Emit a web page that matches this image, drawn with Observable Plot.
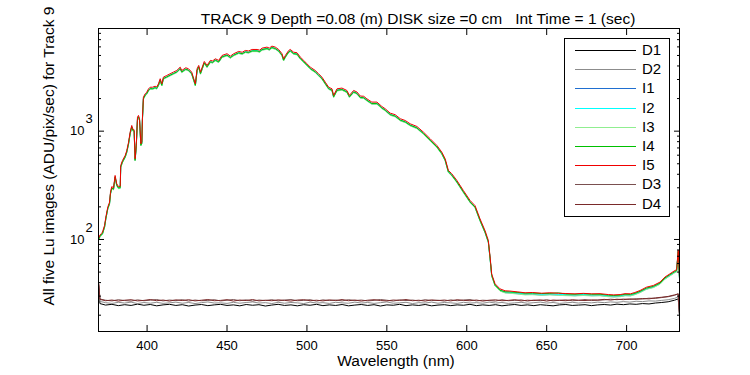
<!DOCTYPE html>
<html><head><meta charset="utf-8">
<script src="https://cdn.jsdelivr.net/npm/d3@7"></script>
<script src="https://cdn.jsdelivr.net/npm/@observablehq/plot@0.6"></script>
<style>
body{margin:0;background:#fff;}
#wrap{position:relative;width:750px;height:375px;overflow:hidden;font-family:"Liberation Sans",Arial,sans-serif;}
#legend{position:absolute;left:564px;top:38px;width:106px;height:179px;box-sizing:border-box;border:1px solid #000;background:#fff;}
.lline{position:absolute;left:10px;width:61px;height:1px;}
.ltext{position:absolute;left:77px;font-size:15px;line-height:20px;height:20px;color:#000;}
</style></head>
<body><div id="wrap"></div>
<script>
// Series names and colours (legend order = drawing order)
const seriesNames = ["D1","D2","I1","I2","I3","I4","I5","D3","D4"];
const seriesColors = ["#000000","#8c8c8c","#1f6fd0","#00ffff","#90ee90","#00c000","#f00000","#7a5050","#7a2a2a"];

// Wavelength grid of the illuminated images (nm)
const wlI = [
369.8,370.5,371.3,372.1,373.4,374.2,375.4,376.5,377.1,377.9,
379.0,380.0,381.0,382.1,383.2,383.5,384.6,386.3,387.3,388.4,
389.4,390.4,391.0,391.9,392.5,393.2,394.0,394.6,395.3,396.1,
396.7,397.1,397.7,398.8,399.8,400.9,401.9,403.4,405.0,406.0,
407.1,408.2,409.2,410.2,412.3,414.4,416.5,418.6,420.7,421.7,
422.5,424.2,425.9,427.9,429.2,430.2,431.3,432.3,433.4,434.5,
435.8,437.5,439.6,441.0,442.7,444.8,446.9,450.0,452.1,454.2,
457.3,459.5,461.5,463.5,465.7,468.8,470.5,471.9,475.0,476.5,
478.1,480.2,482.3,484.4,485.4,486.5,488.6,489.6,491.7,493.8,
495.9,498.0,500.0,502.1,505.2,507.3,509.4,511.5,513.6,515.7,
516.7,518.8,521.9,525.0,526.6,529.2,531.3,533.4,535.5,537.5,
540.6,543.8,546.9,549.0,552.1,555.2,558.4,561.5,564.6,568.8,
572.9,577.1,581.3,584.4,586.5,588.5,590.6,593.8,597.9,602.1,
605.2,608.3,611.5,613.5,614.6,615.6,617.7,620.8,624.0,627.0,
632.0,636.5,641.0,646.9,652.0,657.3,662.0,667.7,673.0,678.2,
683.4,688.6,692.0,696.0,699.0,702.4,705.2,708.4,712.5,716.7,
720.9,724.0,727.1,730.2,731.3,732.3,733.1];

const I5 = [
104,110,113,117,135,161,199,221,273,308,
300,390,327,308,310,482,536,597,663,791,
980,1129,1050,1030,556,738,1346,1397,1300,765,
800,1346,2060,2215,2290,2460,2545,2545,2600,2560,
2735,3050,2735,3155,3266,3388,3509,3635,3900,3635,
3700,3850,3770,3509,3050,2735,3770,4044,3509,3900,
4400,4044,4500,4450,4660,4500,5000,5190,4930,5190,
5450,5350,5560,5500,5680,5680,5600,5840,5970,5850,
6100,5970,5680,5190,4660,5000,5560,5680,5360,5300,
4820,4500,4190,3900,3635,3388,3155,2832,2545,2460,
2140,2460,2500,2375,2140,2375,2300,2110,2100,1990,
1855,1855,1690,1610,1467,1420,1303,1255,1170,1105,
980,851,738,640,556,434,405,351,283,229,
205,155,120,98,69,48,39,35,33.6,33.4,
32.8,32.2,32.4,31.9,32.2,31.9,31.7,31.5,31.8,31.5,
31.6,31.0,30.8,31.0,31.6,31.5,32.4,33.8,36.3,37.6,
40.4,45.0,48.2,51.7,52.5,80,45];

const I4 = [
101,107,110,113,131,156,193,214,265,299,
291,378,317,299,301,468,520,579,643,767,
951,1095,1019,999,539,716,1306,1355,1261,742,
776,1306,1998,2149,2221,2386,2469,2469,2522,2483,
2653,2959,2653,3060,3168,3286,3404,3526,3783,3526,
3589,3735,3657,3404,2959,2653,3657,3923,3404,3783,
4268,3923,4365,4317,4520,4365,4850,5034,4782,5034,
5287,5190,5393,5335,5510,5510,5432,5665,5791,5675,
5917,5791,5510,5034,4520,4850,5393,5510,5199,5141,
4675,4365,4064,3783,3526,3286,3060,2747,2469,2386,
2076,2386,2425,2304,2076,2304,2231,2047,2037,1930,
1799,1799,1639,1562,1423,1377,1264,1217,1135,1072,
951,825,716,621,539,421,393,340,275,222,
199,150,116,95,67,46.6,37.8,34.0,32.9,32.8,
32.4,31.9,32.0,31.7,31.8,32.1,31.4,31.2,31.6,31.2,
31.2,30.6,30.4,30.6,31.2,31.1,31.8,33.2,35.6,36.9,
39.6,44.2,47.4,50.6,51.5,78,44];

const I3 = [
99,105,108,112,129,154,190,211,261,294,
287,372,312,294,296,460,512,570,633,755,
936,1078,1003,984,531,705,1285,1334,1242,731,
764,1285,1967,2115,2187,2349,2430,2430,2483,2445,
2612,2913,2612,3013,3119,3236,3351,3471,3725,3471,
3534,3677,3600,3351,2913,2612,3600,3862,3351,3725,
4202,3862,4298,4250,4450,4298,4775,4956,4708,4956,
5205,5109,5310,5253,5424,5424,5348,5577,5701,5587,
5826,5701,5424,4956,4450,4775,5310,5424,5119,5062,
4603,4298,4001,3725,3471,3236,3013,2705,2430,2349,
2044,2349,2388,2268,2044,2268,2197,2015,2006,1900,
1772,1772,1614,1538,1401,1356,1244,1199,1117,1055,
936,813,705,611,531,414,387,335,270,219,
196,148,115,94,66,45.8,37.2,33.4,32.1,31.9,
31.3,30.8,30.9,30.5,30.8,30.5,30.3,30.1,30.4,30.1,
30.2,29.6,29.4,29.6,30.2,30.1,30.9,32.3,34.7,35.9,
38.6,43.0,46.0,49.4,50.1,76.4,43.0];

const I2 = [
101,107,110,114,132,157,194,215,266,300,
293,380,319,300,302,470,523,582,646,771,
956,1101,1024,1004,542,720,1312,1362,1268,746,
780,1312,2009,2160,2233,2399,2481,2481,2535,2496,
2667,2974,2667,3076,3184,3303,3421,3544,3803,3544,
3608,3754,3676,3421,2974,2667,3676,3943,3421,3803,
4290,3943,4388,4339,4544,4388,4875,5060,4807,5060,
5314,5216,5421,5363,5538,5538,5460,5694,5821,5704,
5948,5821,5538,5060,4544,4875,5421,5538,5226,5168,
4700,4388,4085,3803,3544,3303,3076,2761,2481,2399,
2087,2399,2438,2316,2087,2316,2243,2057,2048,1940,
1809,1809,1648,1570,1430,1385,1270,1224,1141,1077,
956,830,720,624,542,423,395,342,276,223,
200,151,117,96,67,46.8,38.0,34.1,32.8,32.6,
32.0,31.4,31.6,31.1,31.4,31.1,30.9,30.7,31.0,30.7,
30.8,30.2,30.0,30.2,30.8,30.7,31.6,33.0,35.4,36.7,
39.4,43.9,47.0,50.4,51.2,80,43.9];

const I1 = [
100,106,109,113,130,155,191,213,263,296,
289,375,315,296,298,464,516,574,638,761,
943,1086,1010,991,535,710,1295,1344,1251,736,
770,1295,1982,2131,2203,2367,2448,2448,2501,2463,
2631,2934,2631,3035,3142,3259,3376,3497,3752,3497,
3559,3704,3627,3376,2934,2631,3627,3890,3376,3752,
4233,3890,4329,4281,4483,4329,4810,4993,4743,4993,
5243,5147,5349,5291,5464,5464,5387,5618,5743,5628,
5868,5743,5464,4993,4483,4810,5349,5464,5156,5099,
4637,4329,4031,3752,3497,3259,3035,2724,2448,2367,
2059,2367,2405,2285,2059,2285,2213,2030,2020,1914,
1785,1785,1626,1549,1411,1366,1254,1207,1126,1063,
943,819,710,616,535,418,390,338,272,220,
197,149,115,94,66,46.2,37.5,33.7,32.3,32.1,
31.6,31.0,31.2,30.7,31.0,30.7,30.5,30.3,30.6,30.3,
30.4,29.8,29.6,29.8,30.4,30.3,31.2,32.5,34.9,36.2,
38.9,43.3,46.4,49.7,50.5,77,43.3];

// Wavelength grid of the dark images (nm)
const wlD = [
369.8,370.5,374,378,382,386,390,394,398,402,
406,410,414,418,422,426,430,434,438,442,
446,450,454,458,462,466,470,474,478,482,
486,490,494,498,502,506,510,514,518,522,
526,530,534,538,542,546,550,554,558,562,
566,570,574,578,582,586,590,594,598,602,
606,610,614,618,622,626,630,634,638,642,
646,650,654,658,662,666,670,674,678,682,
686,690,694,698,702,706,710,714,718,722,
726,730,732.3,733.1];

const D1 = [
35,25.6,24.8,25.2,24.5,25.0,24.6,25.3,24.7,25.1,
24.4,24.9,25.2,24.6,25.0,24.3,24.8,25.1,24.5,24.9,
25.2,24.6,24.9,24.4,25.1,24.7,25.0,24.3,24.8,25.2,
24.6,24.9,24.4,25.0,24.7,25.2,24.5,24.9,24.6,25.1,
24.4,24.8,25.1,24.6,25.0,24.3,24.9,24.7,25.2,24.5,
24.9,24.6,25.1,24.4,24.8,25.0,24.5,24.9,24.7,25.2,
24.5,24.9,24.6,25.0,24.4,24.8,25.1,24.6,24.9,24.5,
25.0,24.7,24.4,24.9,25.1,24.6,24.8,25.0,24.5,24.9,
25.1,24.8,25.3,25.0,25.4,25.2,25.6,25.4,25.9,26.2,
26.6,27.5,28.3,20];

const D2 = [
37,26.8,26.1,25.7,26.3,25.9,26.4,25.6,26.2,25.8,
26.3,25.7,26.0,26.4,25.8,26.2,25.6,26.1,26.5,25.9,
26.0,25.7,26.3,25.8,26.2,26.5,25.9,26.1,25.6,26.3,
25.8,26.2,26.0,25.6,26.4,25.9,26.1,25.7,26.3,26.0,
25.8,26.4,25.9,26.2,25.7,26.1,26.5,25.8,26.0,26.3,
25.6,26.1,25.9,26.4,25.8,26.2,26.0,25.7,26.3,25.9,
26.1,25.8,26.4,25.9,26.2,25.7,26.0,26.3,25.8,26.1,
26.4,25.9,26.2,25.7,26.0,26.3,25.9,26.2,26.0,26.4,
26.1,26.5,26.3,26.7,26.4,26.9,26.7,27.1,27.0,27.4,
27.8,28.6,29.5,20];

const D3 = [
38,28.2,27.5,27.1,27.8,27.3,27.0,27.7,27.2,27.5,
27.9,27.1,27.6,27.3,27.8,27.0,27.6,27.2,27.4,27.8,
27.1,27.5,27.9,27.2,27.7,27.0,27.6,27.3,27.8,27.1,
27.6,27.9,27.2,27.4,27.8,27.0,27.7,27.3,27.6,27.1,
27.8,27.3,27.6,27.1,27.4,27.9,27.5,27.0,27.7,27.3,
27.6,27.1,27.8,27.3,27.5,27.0,27.7,27.2,27.6,27.9,
27.1,27.5,27.3,27.0,27.8,27.2,27.4,27.7,27.0,27.6,
27.3,27.8,27.1,27.5,27.7,27.2,27.4,27.9,27.3,27.5,
27.7,28.1,27.8,28.2,27.9,28.4,28.2,28.7,28.6,29.1,
29.6,30.5,31.6,21];

const D4 = [
39,28.0,27.2,27.6,27.0,27.5,27.8,27.1,27.4,27.9,
27.2,27.6,27.0,27.7,27.3,27.8,27.1,27.5,27.9,27.2,
27.4,27.8,27.0,27.6,27.3,27.9,27.1,27.5,27.2,27.7,
27.4,27.0,27.6,27.8,27.2,27.5,27.1,27.7,27.3,27.9,
27.2,27.6,27.0,27.5,27.8,27.3,27.1,27.6,27.4,27.9,
27.2,27.5,27.0,27.7,27.3,27.6,27.1,27.8,27.4,27.2,
27.6,27.0,27.5,27.7,27.2,27.4,27.8,27.1,27.5,27.3,
27.7,27.0,27.6,27.4,27.2,27.8,27.5,27.3,27.7,27.6,
28.0,27.6,28.1,27.8,28.3,28.0,28.5,28.3,28.9,29.3,
29.8,30.8,31.4,20.5];

// Axis ticks and labels
const xTicks = [400,450,500,550,600,650,700];
const yMajor = [100,1000];
const yExpLabels = ["2","3"];
const yMinor = [20,30,40,50,60,70,80,90,200,300,400,500,600,700,800,900,2000,3000,4000,5000,6000,7000,8000];
const titleText = "TRACK 9 Depth =0.08 (m) DISK size =0 cm   Int Time = 1 (sec)";
const xLabel = "Wavelength (nm)";
const yLabel = "All five Lu images (ADU/pix/sec) for Track 9";

// Build long table in drawing order
const seriesData = {D1:[wlD,D1], D2:[wlD,D2], I1:[wlI,I1], I2:[wlI,I2], I3:[wlI,I3], I4:[wlI,I4], I5:[wlI,I5], D3:[wlD,D3], D4:[wlD,D4]};
const rows = [];
for (const s of seriesNames) {
  const [w, v] = seriesData[s];
  const n = Math.min(w.length, v.length);
  for (let i = 0; i < n; i++) rows.push({s, wl: w[i], v: v[i]});
}

const font = '"Liberation Sans", Arial, sans-serif';
const chart = Plot.plot({
  width: 750, height: 375,
  marginLeft: 98, marginRight: 71, marginTop: 28, marginBottom: 44,
  style: {fontFamily: font, fontSize: "13px", background: "white", color: "black", overflow: "visible"},
  x: {domain: [369.6, 733.1]},
  y: {type: "log", domain: [14.14, 8870]},
  color: {domain: seriesNames, range: seriesColors},
  marks: [
    Plot.line(rows, {x: "wl", y: "v", z: "s", stroke: "s", strokeWidth: 1}),
    Plot.frame({stroke: "black"}),
    Plot.axisX({anchor: "bottom", ticks: xTicks, tickSize: -6, text: null, label: null}),
    Plot.axisX({anchor: "top", ticks: xTicks, tickSize: -6, text: null, label: null}),
    Plot.axisX({anchor: "bottom", ticks: xTicks, tickSize: 0, tickPadding: 9, label: null, tickFormat: d => String(d), fontSize: 13}),
    Plot.axisY({anchor: "left", ticks: yMajor, tickSize: -6, text: null, label: null}),
    Plot.axisY({anchor: "right", ticks: yMajor, tickSize: -6, text: null, label: null}),
    Plot.axisY({anchor: "left", ticks: yMinor, tickSize: -3, text: null, label: null}),
    Plot.axisY({anchor: "right", ticks: yMinor, tickSize: -3, text: null, label: null}),
    Plot.text(yMajor, {y: d => d, frameAnchor: "left", text: () => "10", textAnchor: "end", dx: -14, fontSize: 13}),
    Plot.text(yMajor, {y: d => d, frameAnchor: "left", text: (d, i) => yExpLabels[i], textAnchor: "start", dx: -13, dy: -12, fontSize: 13}),
    Plot.text([titleText], {frameAnchor: "top", text: d => d, dy: -16, dx: 29, fontSize: 15.5}),
    Plot.text([xLabel], {frameAnchor: "bottom", text: d => d, dy: 34, dx: 7, fontSize: 15.5}),
    Plot.text([yLabel], {frameAnchor: "bottom-left", text: d => d, rotate: -90, textAnchor: "start", dx: -45, dy: -26, fontSize: 15.5})
  ]
});
const wrap = document.getElementById("wrap");
wrap.appendChild(chart);

// Legend box
const leg = document.createElement("div");
leg.id = "legend";
seriesNames.forEach((s, i) => {
  const cy = Math.round(11 + i * 19.2);
  const l = document.createElement("div");
  l.className = "lline";
  l.style.top = cy + "px";
  l.style.background = seriesColors[i];
  const t = document.createElement("div");
  t.className = "ltext";
  t.style.top = (cy - 10) + "px";
  t.textContent = s;
  leg.appendChild(l); leg.appendChild(t);
});
wrap.appendChild(leg);
</script>
</body></html>
